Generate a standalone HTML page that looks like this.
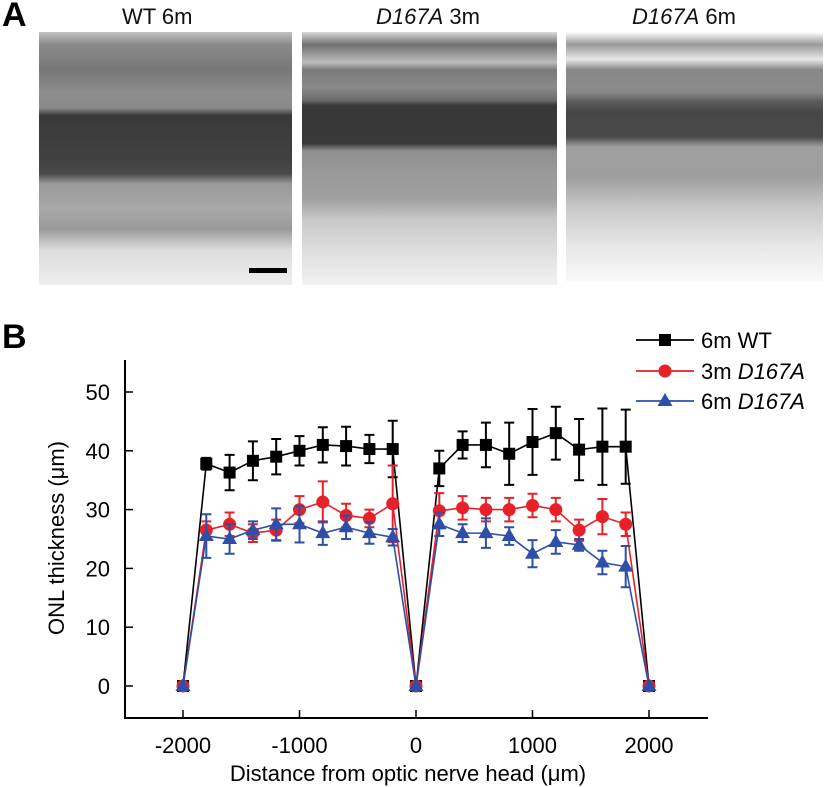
<!DOCTYPE html>
<html><head><meta charset="utf-8"><style>
body{margin:0;background:#fff;width:826px;height:787px;overflow:hidden;position:relative;font-family:"Liberation Sans",sans-serif}
.lbl{position:absolute;font-size:22px;color:#111}
.pl{position:absolute;font-weight:bold;font-size:34px}
.img{position:absolute;overflow:hidden}
</style></head><body>
<div class="pl" style="left:2px;top:-4px">A</div>
<div class="pl" style="left:2px;top:318px">B</div>
<div class="lbl" style="left:122px;top:4px">WT 6m</div>
<div class="lbl" style="left:376px;top:4px"><i>D167A</i> 3m</div>
<div class="lbl" style="left:632px;top:4px"><i>D167A</i> 6m</div>
<div class="img" style="left:39px;top:32px;width:253px;height:253px;background:linear-gradient(#c0c0c0 0%,#8a8a8a 5%,#777 15%,#8e8e8e 24%,#8a8a8a 30%,#3a3a3a 33%,#404040 50%,#4a4a4a 56%,#9a9a9a 60%,#a8a8a8 70%,#9a9a9a 78%,#dcdcdc 86%,#eeeeee 100%)">
<div style="position:absolute;left:210px;top:236px;width:38px;height:5px;background:#000"></div></div>
<div class="img" style="left:302px;top:32px;width:255px;height:253px;background:linear-gradient(#d8d8d8 0%,#707070 5%,#bcbcbc 12%,#7a7a7a 15%,#8a8a8a 22%,#6a6a6a 27%,#383838 29%,#383838 44%,#8e8e8e 47%,#999 55%,#a0a0a0 66%,#c8c8c8 74%,#e0e0e0 88%,#f2f2f2 100%)"></div>
<div class="img" style="left:566px;top:32px;width:257px;height:250px;background:linear-gradient(#ffffff 0%,#9a9a9a 5%,#e8e8e8 11%,#888 15%,#8a8a8a 24%,#5a5a5a 28%,#464646 32%,#4a4a4a 42%,#a0a0a0 46%,#9e9e9e 58%,#c8c8c8 70%,#e6e6e6 85%,#fafafa 100%)"></div>
<svg id="chart" width="826" height="787" style="position:absolute;left:0;top:0"></svg>
<script>
const xs=[-2000,-1800,-1600,-1400,-1200,-1000,-800,-600,-400,-200,0,200,400,600,800,1000,1200,1400,1600,1800,2000];
const wtVals=[0,37.8,36.3,38.3,39,40,41,40.8,40.3,40.3,0,37,41,41,39.5,41.5,43,40.2,40.7,40.7,0];
const wtErr=[0,1,3,3.3,3,2.5,3,3.3,2.4,4.8,0,3,2.3,3.8,5.3,5.6,4.5,5.2,6.5,6.3,0];
const redVals=[0,26.5,27.5,26,26.5,30,31.3,29,28.5,31,0,29.8,30.3,30,30,30.7,30,26.5,28.8,27.5,0];
const redErr=[0,1.5,2,1.5,1.8,2.3,3.5,2,1.5,6.5,0,3,2,2,2,2,2,1.8,3,2,0];
const blueVals=[0,25.5,25,26.5,27.5,27.5,26,27,26,25.3,0,27.5,26,26,25.5,22.5,24.5,24,21,20.3,0];
const blueErr=[0,3.7,2.5,1.5,2.7,3.1,2,2,1.8,1.4,0,2,1.5,2.5,1.5,2.3,2,1,2,3.5,0];
const yTicks=[0,10,20,30,40,50];
const xTicks=[-2000,-1000,0,1000,2000];
const X=v=>416+v*0.1165, Y=v=>686-v*5.88;
const svg=document.getElementById('chart');const NS='http://www.w3.org/2000/svg';
function el(t,a,p){const e=document.createElementNS(NS,t);for(const k in a)e.setAttribute(k,a[k]);(p||svg).appendChild(e);return e;}
let a=el('line',{x1:125,y1:360,x2:125,y2:719,stroke:'#000','stroke-width':2});

a=el('line',{x1:124,y1:718,x2:708,y2:718,stroke:'#000','stroke-width':2});

yTicks.forEach(t=>{el('line',{x1:125,x2:133,y1:Y(t),y2:Y(t),stroke:'#000','stroke-width':1.5});
const tx=el('text',{x:110,y:Y(t)+8,'text-anchor':'end','font-size':22});tx.textContent=t;
});
xTicks.forEach(t=>{el('line',{x1:X(t),x2:X(t),y1:718,y2:710,stroke:'#000','stroke-width':1.5});
const tx=el('text',{x:X(t),y:753,'text-anchor':'middle','font-size':22});tx.textContent=t;
});
let t=el('text',{x:408,y:781,'text-anchor':'middle','font-size':22});t.textContent='Distance from optic nerve head (\u03bcm)';

t=el('text',{x:0,y:0,'text-anchor':'middle','font-size':22,transform:'translate(64,538) rotate(-90)'});t.textContent='ONL thickness (\u03bcm)';

function marker(shape,x,y,c,g){
 if(shape==='sq')return el('rect',{x:x-6,y:y-6,width:12,height:12,fill:c},g);
 if(shape==='ci')return el('circle',{cx:x,cy:y,r:6.5,fill:c},g);
 return el('polygon',{points:`${x},${y-8} ${x-7.5},${y+5} ${x+7.5},${y+5}`,fill:c},g);}
function series(name,vals,errs,c,shape){
 const g=el('g',{});
 el('polyline',{points:xs.map((x,i)=>X(x)+','+Y(vals[i])).join(' '),fill:'none',stroke:c,'stroke-width':1.6},g);
 xs.forEach((x,i)=>{if(errs[i]>0){const cx=X(x);
  el('path',{d:`M${cx},${Y(vals[i]-errs[i])}V${Y(vals[i]+errs[i])}M${cx-5},${Y(vals[i]+errs[i])}h10M${cx-5},${Y(vals[i]-errs[i])}h10`,stroke:c,'stroke-width':2,fill:'none'},g);}});
 xs.forEach((x,i)=>{const m=marker(shape,X(x),Y(vals[i]),c,g);});
}
series('series-6m-wt',wtVals,wtErr,'#000','sq');
series('series-3m-d167a',redVals,redErr,'#e8202a','ci');
series('series-6m-d167a',blueVals,blueErr,'#2e4fa8','tr');
const leg=[['6m WT','#000','sq',340,false],['3m ','#e8202a','ci',371,true],['6m ','#2e4fa8','tr',401,true]];
leg.forEach(l=>{const g=el('g',{});
 el('line',{x1:636,x2:694,y1:l[3],y2:l[3],stroke:l[1],'stroke-width':1.8},g);marker(l[2],665,l[3],l[1],g);
 const tx=el('text',{x:701,y:l[3]+8,'font-size':22},g);tx.textContent=l[0];
 if(l[4]){const ts=el('tspan',{'font-style':'italic'},tx);ts.textContent='D167A';}});
</script>
</body></html>
